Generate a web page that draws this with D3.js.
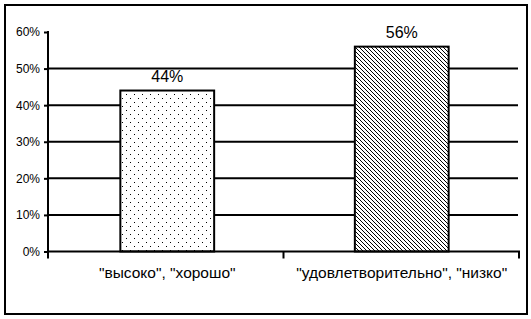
<!DOCTYPE html>
<html>
<head>
<meta charset="utf-8">
<script src="https://cdn.jsdelivr.net/npm/d3@7"></script>
<style>
  body { margin: 0; background: #fff; }
  svg text { font-family: Arial, "Liberation Sans", sans-serif; fill: #000; }
</style>
</head>
<body>
<div id="chart"></div>
<script>
const categories = ['"высоко", "хорошо"', '"удовлетворительно", "низко"'];
const values = [0.44, 0.56];
const patterns = ['dots', 'hatch'];
const yTicks = [0, 0.1, 0.2, 0.3, 0.4, 0.5, 0.6];

const width = 531;
const height = 319;
const plot = { left: 48, right: 519, top: 32, bottom: 251.5 };

const svg = d3.select('#chart')
    .append('svg')
    .attr('width', width)
    .attr('height', height);

// fill patterns
const defs = svg.append('defs');
const dots = defs.append('pattern')
    .attr('id', 'dots')
    .attr('patternUnits', 'userSpaceOnUse')
    .attr('width', 8).attr('height', 8);
dots.append('rect').attr('width', 8).attr('height', 8).attr('fill', '#fff');
dots.append('rect').attr('x', 2).attr('y', 2).attr('width', 1).attr('height', 1).attr('fill', '#000');
dots.append('rect').attr('x', 6).attr('y', 6).attr('width', 1).attr('height', 1).attr('fill', '#000');

const hatch = defs.append('pattern')
    .attr('id', 'hatch')
    .attr('patternUnits', 'userSpaceOnUse')
    .attr('width', 4).attr('height', 4);
hatch.append('rect').attr('width', 4).attr('height', 4).attr('fill', '#fff');
hatch.append('path')
    .attr('d', 'M-1,-1 L5,5 M-1,3 L1,5 M3,-1 L5,1')
    .attr('stroke', '#000')
    .attr('stroke-width', 1);

// outer frame
svg.append('rect')
    .attr('x', 5).attr('y', 5)
    .attr('width', 522).attr('height', 309)
    .attr('fill', 'none')
    .attr('stroke', '#000')
    .attr('stroke-width', 2);

const x = d3.scaleBand()
    .domain(categories)
    .range([plot.left + 2, plot.right])
    .paddingInner(0.6)
    .paddingOuter(0.3);

const y = d3.scaleLinear()
    .domain([0, 0.6])
    .range([plot.bottom, plot.top]);

// gridlines
svg.append('g')
    .selectAll('line')
    .data(yTicks.slice(1, -1))
    .enter()
    .append('line')
    .attr('x1', plot.left).attr('x2', plot.right - 1)
    .attr('y1', d => y(d)).attr('y2', d => y(d))
    .attr('stroke', '#000')
    .attr('stroke-width', 2);

// y axis
const yAxis = svg.append('g')
    .attr('transform', `translate(${plot.left},0)`)
    .call(d3.axisLeft(y).tickValues(yTicks).tickFormat(d3.format('.0%')).tickSize(4).tickPadding(4));
yAxis.select('.domain').remove();
yAxis.selectAll('.tick line').attr('stroke', '#000').attr('stroke-width', 2);
yAxis.selectAll('.tick text').style('font-size', '12px').style('font-family', 'Arial, "Liberation Sans", sans-serif');
svg.append('line')
    .attr('x1', plot.left).attr('x2', plot.left)
    .attr('y1', plot.top - 1).attr('y2', plot.bottom + 7)
    .attr('stroke', '#000').attr('stroke-width', 2);

// bars
svg.append('g')
    .selectAll('rect')
    .data(values)
    .enter()
    .append('rect')
    .attr('x', (d, i) => x(categories[i]))
    .attr('y', d => y(d))
    .attr('width', x.bandwidth())
    .attr('height', d => y(0) - y(d))
    .attr('fill', (d, i) => `url(#${patterns[i]})`)
    .attr('stroke', '#000')
    .attr('stroke-width', 2);

// value labels
svg.append('g')
    .selectAll('text')
    .data(values)
    .enter()
    .append('text')
    .attr('x', (d, i) => x(categories[i]) + x.bandwidth() / 2)
    .attr('y', d => y(d) - 9)
    .attr('text-anchor', 'middle')
    .style('font-size', '16px')
    .text(d => d3.format('.0%')(d));

// x axis
svg.append('line')
    .attr('x1', plot.left).attr('x2', plot.right + 1)
    .attr('y1', y(0)).attr('y2', y(0))
    .attr('stroke', '#000').attr('stroke-width', 2);
const boundaries = [plot.left + (plot.right - plot.left) / 2, plot.right];
svg.append('g')
    .selectAll('line')
    .data(boundaries)
    .enter()
    .append('line')
    .attr('x1', d => d).attr('x2', d => d)
    .attr('y1', y(0)).attr('y2', y(0) + 7)
    .attr('stroke', '#000').attr('stroke-width', 2);

svg.append('g')
    .selectAll('text')
    .data(categories)
    .enter()
    .append('text')
    .attr('x', d => x(d) + x.bandwidth() / 2)
    .attr('y', 278)
    .attr('text-anchor', 'middle')
    .style('font-size', '15.5px')
    .text(d => d);
</script>
</body>
</html>
